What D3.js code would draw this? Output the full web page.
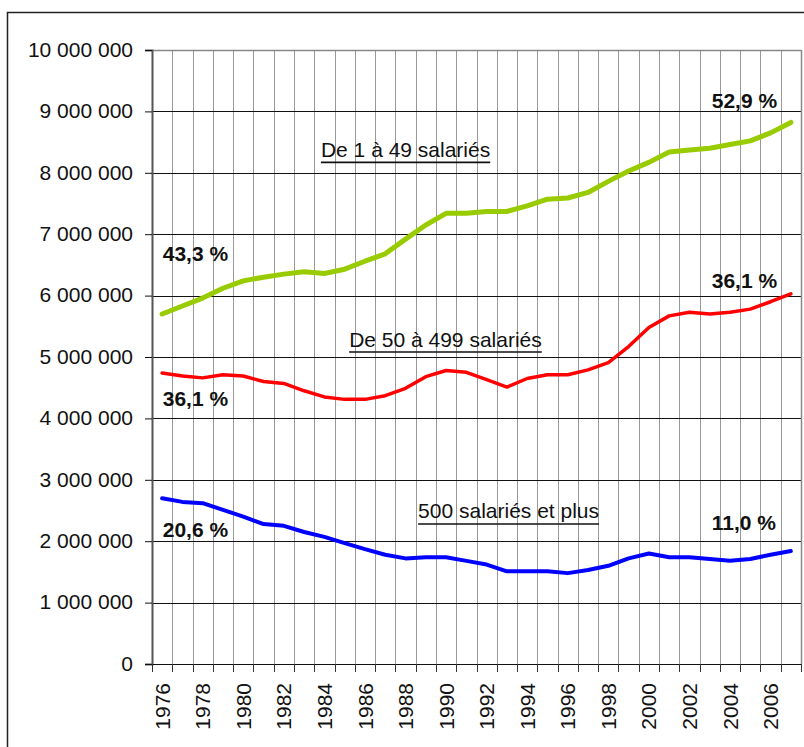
<!DOCTYPE html>
<html>
<head>
<meta charset="utf-8">
<script src="https://cdn.jsdelivr.net/npm/d3@7"></script>
<style>
  html, body { margin: 0; padding: 0; background: #fff; }
  text { font-family: "Liberation Sans", Arial, sans-serif; }
</style>
</head>
<body>
<svg id="chart" width="804" height="747"></svg>
<script>
// ---- Data ----
const years = d3.range(1976, 2008);
const small = [5.70, 5.83, 5.96, 6.12, 6.24, 6.30, 6.35, 6.39, 6.36, 6.43, 6.56, 6.68,
  6.92, 7.15, 7.34, 7.34, 7.37, 7.37, 7.46, 7.57, 7.59, 7.68, 7.86, 8.03,
  8.17, 8.34, 8.37, 8.40, 8.46, 8.52, 8.65, 8.82].map(v => v * 1e6);
const medium = [4.74, 4.69, 4.66, 4.71, 4.69, 4.60, 4.57, 4.45, 4.35, 4.31, 4.31, 4.37,
  4.49, 4.68, 4.78, 4.75, 4.63, 4.51, 4.65, 4.71, 4.71, 4.79, 4.91, 5.17,
  5.48, 5.67, 5.73, 5.70, 5.73, 5.78, 5.90, 6.03].map(v => v * 1e6);
const large = [2.70, 2.64, 2.62, 2.51, 2.40, 2.28, 2.25, 2.15, 2.07, 1.97, 1.87, 1.78,
  1.72, 1.74, 1.74, 1.68, 1.62, 1.51, 1.51, 1.51, 1.48, 1.53, 1.60, 1.72,
  1.80, 1.74, 1.74, 1.71, 1.68, 1.71, 1.78, 1.84].map(v => v * 1e6);
const yTicks = d3.range(0, 10000001, 1000000);
const xLabelYears = years.filter((y, i) => i % 2 === 0);
const seriesNames = ["De 1 à 49 salariés", "De 50 à 499 salariés", "500 salariés et plus"];
const shareLabels = ["43,3 %", "52,9 %", "36,1 %", "36,1 %", "20,6 %", "11,0 %"];

// ---- Layout ----
const L = 152, R = 801, T = 50, B = 664;
const svg = d3.select("#chart");
const x = d3.scaleBand().domain(years).range([L, R]).padding(0);
const bw = x.bandwidth();
const y = d3.scaleLinear().domain([0, 10000000]).range([B, T]);
const fmt = d3.formatLocale({ decimal: ",", thousands: " ", grouping: [3], currency: ["", ""] }).format(",d");

// outer frame
svg.append("rect").attr("x", 7.5).attr("y", 12.5).attr("width", 805).attr("height", 745)
  .attr("fill", "none").attr("stroke", "#222").attr("stroke-width", 1.5);

// vertical gridlines at category boundaries
const bounds = years.map(yr => x(yr)).concat([R]);
svg.append("g").selectAll("line").data(bounds.slice(1)).join("line")
  .attr("x1", d => Math.round(d) + 0.5).attr("x2", d => Math.round(d) + 0.5)
  .attr("y1", T).attr("y2", B)
  .attr("stroke", "#999").attr("stroke-width", 1);

// horizontal gridlines
svg.append("g").selectAll("line").data(yTicks.filter(t => t > 0 && t < 10000000)).join("line")
  .attr("x1", L).attr("x2", R)
  .attr("y1", d => Math.round(y(d)) + 0.5).attr("y2", d => Math.round(y(d)) + 0.5)
  .attr("stroke", "#111").attr("stroke-width", 1);

// top border of plot
svg.append("line").attr("x1", L).attr("x2", R + 0.5).attr("y1", T + 0.5).attr("y2", T + 0.5)
  .attr("stroke", "#888").attr("stroke-width", 1.5);
svg.append("line").attr("x1", R + 0.5).attr("x2", R + 0.5).attr("y1", T).attr("y2", B)
  .attr("stroke", "#888").attr("stroke-width", 1.5);

// y axis
const yAxis = d3.axisLeft(y).tickValues(yTicks).tickFormat(fmt).tickSize(7).tickPadding(12);
const gy = svg.append("g").attr("transform", `translate(${L},0)`).call(yAxis);
gy.select(".domain").attr("stroke", "#555").attr("stroke-width", 2);
gy.selectAll(".tick line").attr("stroke", "#111");
gy.selectAll(".tick text").attr("font-size", 21).attr("fill", "#111")
  .attr("font-family", "Liberation Sans, Arial, sans-serif").attr("dy", "0.3em");

// x axis line
svg.append("line").attr("x1", L - 7).attr("x2", R).attr("y1", B + 0.5).attr("y2", B + 0.5)
  .attr("stroke", "#111").attr("stroke-width", 1.2);
// x tick marks at boundaries
svg.append("g").selectAll("line").data(bounds).join("line")
  .attr("x1", d => Math.round(d) + 0.5).attr("x2", d => Math.round(d) + 0.5)
  .attr("y1", B).attr("y2", B + 8)
  .attr("stroke", "#333").attr("stroke-width", 1);
// x labels
svg.append("g").selectAll("text").data(xLabelYears).join("text")
  .attr("transform", d => `translate(${x(d) + bw / 2},683) rotate(-90)`)
  .attr("text-anchor", "end").attr("dy", "0.36em")
  .attr("font-size", 21).attr("fill", "#111")
  .text(d => d);

// lines
const line = d3.line().x((d, i) => x(years[i]) + bw / 2).y(d => y(d));
const seriesData = [
  { values: small, color: "#99CC00", width: 5 },
  { values: medium, color: "#FF0000", width: 3.5 },
  { values: large, color: "#0000FF", width: 4 }
];
svg.append("g").selectAll("path").data(seriesData).join("path")
  .attr("d", d => line(d.values))
  .attr("fill", "none").attr("stroke", d => d.color).attr("stroke-width", d => d.width)
  .attr("stroke-linejoin", "round").attr("stroke-linecap", "round");

// series name labels (underlined)  — anchor: category index offset, value
const nameAnchors = [
  { i: 8.33, v: 8260000 },
  { i: 9.72, v: 5170000 },
  { i: 13.12, v: 2370000 }
];
seriesNames.forEach((name, k) => {
  const a = nameAnchors[k];
  const tx = L + a.i * bw, ty = y(a.v);
  const t = svg.append("text").attr("x", tx).attr("y", ty)
    .attr("font-size", 21).attr("fill", "#111").text(name);
  const w = t.node().getComputedTextLength();
  svg.append("line").attr("x1", tx).attr("x2", tx + w)
    .attr("y1", ty + 5.5).attr("y2", ty + 5.5)
    .attr("stroke", "#111").attr("stroke-width", 1.6);
});

// share labels
const shareAnchors = [
  { i: 0.53, v: 6560000 },
  { i: 27.6, v: 9060000 },
  { i: 0.53, v: 4210000 },
  { i: 27.6, v: 6120000 },
  { i: 0.53, v: 2070000 },
  { i: 27.6, v: 2190000 }
];
svg.append("g").selectAll("text").data(shareLabels).join("text")
  .attr("x", (d, k) => L + shareAnchors[k].i * bw)
  .attr("y", (d, k) => y(shareAnchors[k].v))
  .attr("font-size", 21).attr("font-weight", "bold").attr("fill", "#111")
  .text(d => d);
</script>
</body>
</html>
